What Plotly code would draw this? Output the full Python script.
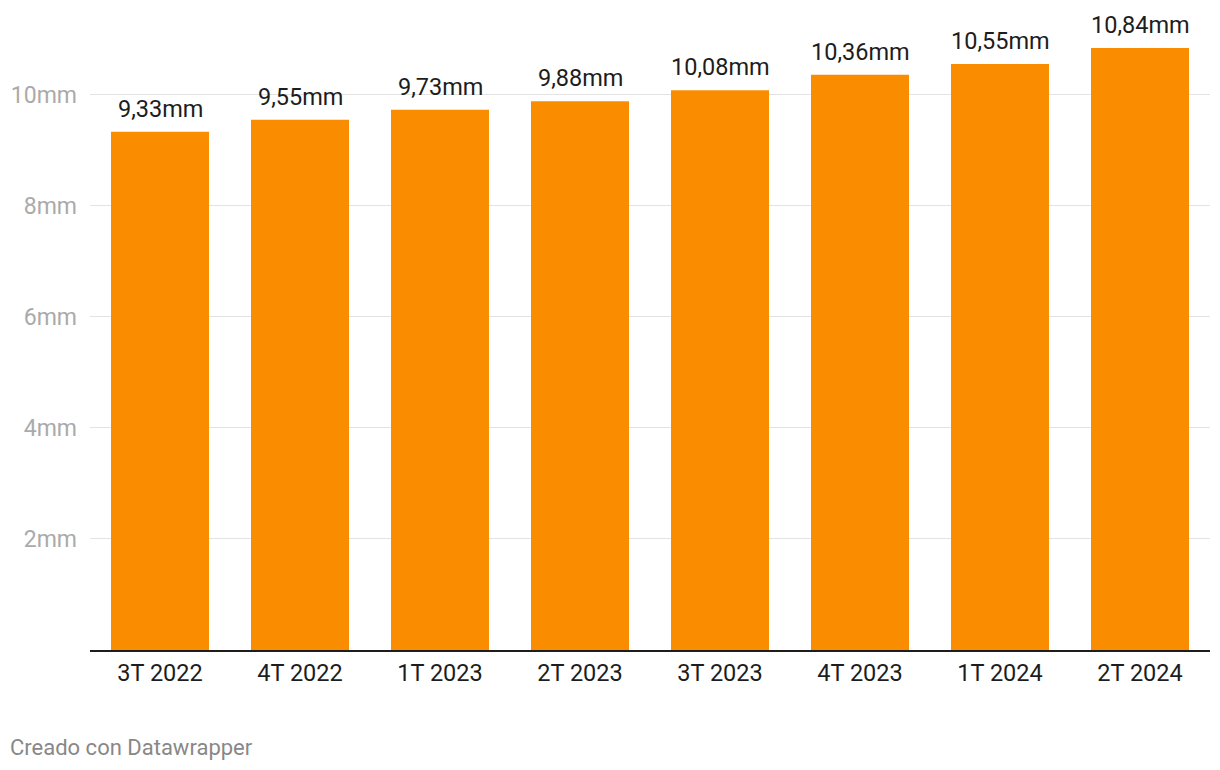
import plotly.graph_objects as go

categories = ["3T 2022", "4T 2022", "1T 2023", "2T 2023", "3T 2023", "4T 2023", "1T 2024", "2T 2024"]
values = [9.33, 9.55, 9.73, 9.88, 10.08, 10.36, 10.55, 10.84]
y_ticks = [2, 4, 6, 8, 10]
y_tick_labels = ["2mm", "4mm", "6mm", "8mm", "10mm"]

def fmt(v):
    return f"{v:.2f}".replace(".", ",") + "mm"

FONT = "Roboto"
fig = go.Figure()
fig.add_trace(go.Bar(
    x=categories, y=values, marker=dict(color="#fa8c00", line=dict(width=0)),
    width=0.7, hoverinfo="skip",
))
for c, v in zip(categories, values):
    fig.add_annotation(x=c, y=v, yref="y", text=fmt(v), showarrow=False, yanchor="bottom",
                       yshift=7, font=dict(family=FONT, size=23.5, color="#1d1d1d"))

W, H = 1212, 762
L, R, T, B = 82, 10, 40, 120
fig.add_annotation(xref="paper", yref="paper", x=(0 - L) / (W - L - R), y=(H - B - 739) / (H - T - B),
                   xanchor="left", yanchor="middle",
                   text="Creado con Datawrapper", showarrow=False,
                   font=dict(family=FONT, size=22, color="#888888"))

fig.update_layout(
    width=W, height=H, margin=dict(l=L, r=R, t=T, b=B, autoexpand=False),
    paper_bgcolor="white", plot_bgcolor="white", showlegend=False,
    font=dict(family=FONT),
)
fig.update_xaxes(
    showgrid=False, showline=True, linecolor="#1d1d1d", linewidth=1.5,
    tickfont=dict(family=FONT, size=23.5, color="#1d1d1d"), ticks="", ticklabelstandoff=1,
    fixedrange=True, automargin=False,
)
fig.update_yaxes(
    range=[0, 10.84], tickvals=y_ticks, ticktext=y_tick_labels,
    showgrid=True, gridcolor="#e3e3e3", gridwidth=1.3, zeroline=False,
    tickfont=dict(family=FONT, size=23, color="#aaaaaa"), ticks="", ticklabelstandoff=12,
    fixedrange=True, automargin=False,
)
fig.write_html("out.html")
